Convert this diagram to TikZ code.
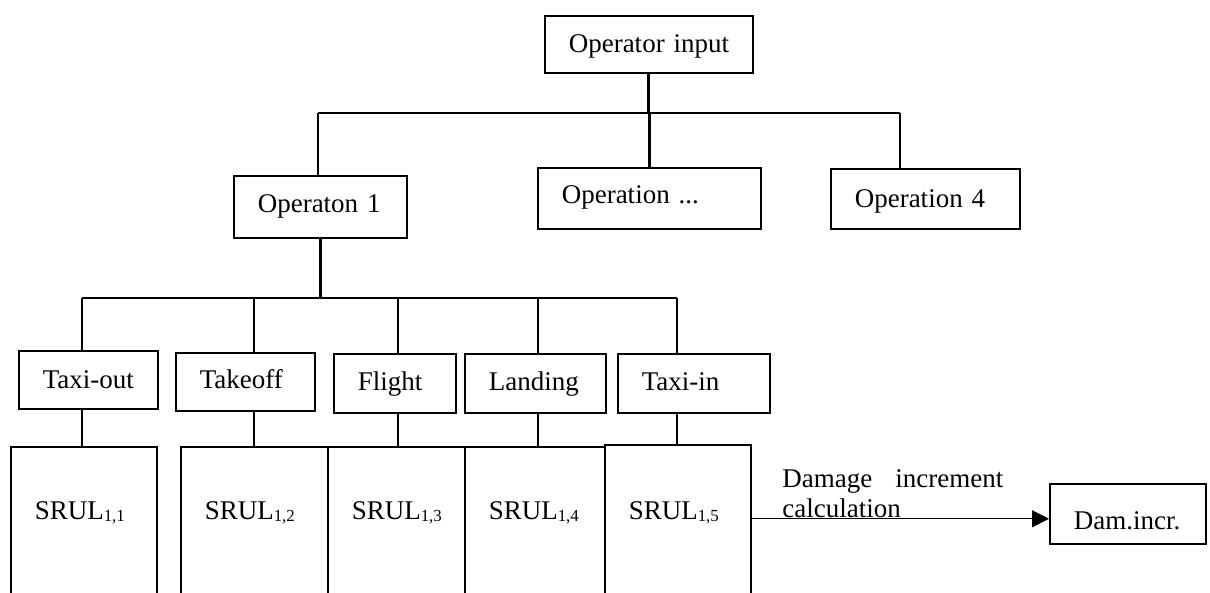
\documentclass[tikz,border=0pt]{standalone}
\usepackage{fontspec}
\setmainfont{Liberation Serif}
\usetikzlibrary{arrows.meta,calc}

\newcommand{\subidx}[1]{\raisebox{-1pt}{\fontsize{12}{12}\selectfont #1}}

\tikzset{
  blk/.style={draw, line width=1.1pt, anchor=north west, inner xsep=.6cm, inner ysep=0pt, align=left},
  tree/.style={line width=1.9pt},
  arr/.style={line width=.9pt, -{Triangle[length=12pt,width=12pt]}}
}

\begin{document}
\begin{tikzpicture}[x=0.025cm, y=-0.025cm, font=\fontsize{19.2}{21.3}\selectfont]
\useasboundingbox (0,0) rectangle (1210,592);
\clip (0,0) rectangle (1210,592);
% top level
\node[blk, text width=4cm, text height=.925cm, text depth=.5cm] (inp) at (544,15) {\mbox{Operator input}};
\node[blk, text width=3.125cm, text height=.925cm, text depth=.625cm] (op1) at (233,175) {\mbox{Operaton 1}};
\node[blk, text width=4.375cm, text height=.9cm, text depth=.625cm] (opx) at (537,167) {\mbox{Operation ...}};
\node[blk, text width=3.525cm, text height=.975cm, text depth=.525cm] (op4) at (830,168) {\mbox{Operation 4}};
% phases
\node[blk, text width=2.275cm, text height=.95cm, text depth=.5cm] (tout) at (18,350) {\mbox{Taxi-out}};
\node[blk, text width=2.275cm, text height=.9cm, text depth=.55cm] (toff) at (175,352) {\mbox{Takeoff}};
\node[blk, text width=1.85cm, text height=.925cm, text depth=.55cm] (flt) at (333,353) {\mbox{Flight}};
\node[blk, text width=2.325cm, text height=.925cm, text depth=.55cm] (lnd) at (464,353) {\mbox{Landing}};
\node[blk, text width=2.6cm, text height=.925cm, text depth=.55cm] (tin) at (617,353) {\mbox{Taxi-in}};
% SRUL blocks
\node[blk, text width=2.45cm, text height=1.825cm, text depth=5cm] (s1) at (10,446) {SRUL\subidx{1,1}};
\node[blk, text width=2.475cm, text height=1.825cm, text depth=5cm] (s2) at (180,446) {SRUL\subidx{1,2}};
\node[blk, text width=2.225cm, text height=1.825cm, text depth=5cm] (s3) at (327,446) {SRUL\subidx{1,3}};
\node[blk, text width=2.3cm, text height=1.825cm, text depth=5cm] (s4) at (464,446) {SRUL\subidx{1,4}};
\node[blk, text width=2.45cm, text height=1.875cm, text depth=5cm] (s5) at (604,444) {SRUL\subidx{1,5}};
\node[blk, text width=2.7cm, text height=1.15cm, text depth=.35cm] (dam) at (1049,483) {\mbox{Dam.incr.}};
\node[anchor=south west, inner sep=0pt, text width=5.525cm, align=justify] (lbl) at (782,518) {Damage increment calculation};

\coordinate (t1) at (318,113);
\coordinate (t2) at (900,113);
\coordinate (b1) at (82,298);
\coordinate (b2) at (677,298);

\draw[tree] (inp.south) -- (inp.south |- t1);
\draw[tree] (t1) -- (t2);
\draw[tree] (t1) -- (t1 |- op1.north);
\draw[tree] (opx.north) -- (opx.north |- t1);
\draw[tree] (t2) -- (t2 |- op4.north);
\draw[tree] (op1.south) -- (op1.south |- b1);
\draw[tree] (b1) -- (b2);
\foreach \x/\n/\s in {82/tout/s1,254/toff/s2,398/flt/s3,538/lnd/s4,677/tin/s5}
  \draw[tree] (\x,298) -- (\x,0 |- \n.north) (\x,0 |- \n.south) -- (\x,0 |- \s.north);

\draw[arr] ($(s5.east |- dam.west)+(0,5)$) -- ($(dam.west)+(0,5)$);
\end{tikzpicture}
\end{document}
